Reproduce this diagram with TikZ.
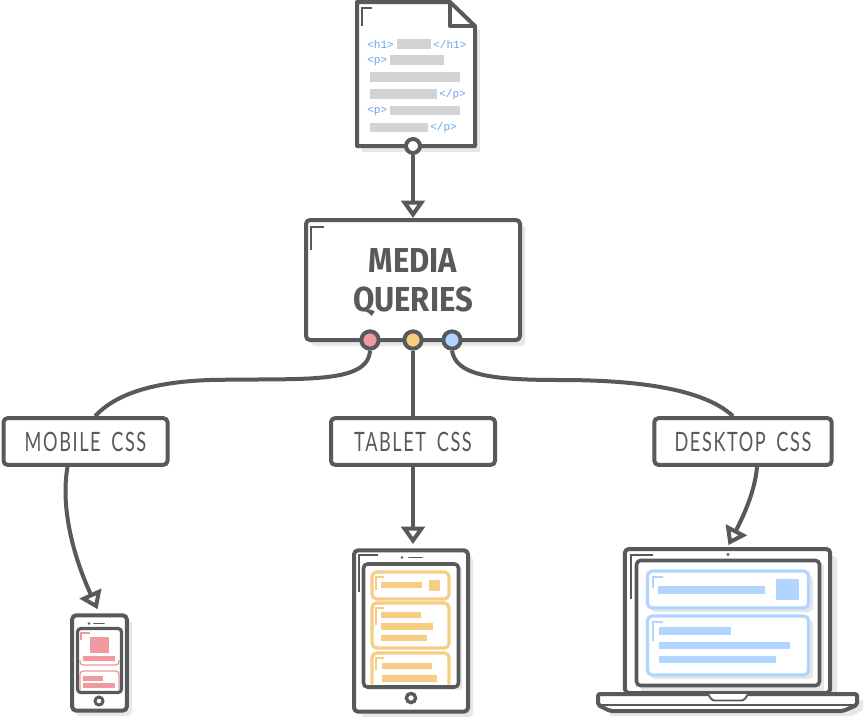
\documentclass[tikz,border=0pt]{standalone}
\usepackage{fontspec}
\usetikzlibrary{arrows.meta}
\newfontfamily\titlefont[FakeStretch=0.895]{Fira Sans}
\newfontfamily\labelfont[FakeStretch=0.68,LetterSpace=6,WordSpace=1.7]{Lato}
\newfontfamily\tagfont{Liberation Mono}
\definecolor{ink}{HTML}{58595B}
\definecolor{dropgrey}{HTML}{E6E7E8}
\definecolor{linebar}{HTML}{D1D3D4}
\definecolor{tagblue}{HTML}{6AA5E8}
\definecolor{redpt}{HTML}{F0999F}
\definecolor{orangept}{HTML}{F7CD84}
\definecolor{bluept}{HTML}{B1D5FF}
\tikzset{
	outline/.style={draw=ink, line width=3pt, line join=round},
	device/.style={outline, rectangle, rounded corners=3pt, fill=white, inner sep=0pt},
	labelbox/.style={device, minimum width=123pt, minimum height=35pt, font=\labelfont\fontsize{20}{20}\selectfont, text=ink},
	glint/.style={draw=ink, line width=1.1pt},
	port/.style={outline, circle, inner sep=0pt, minimum size=13pt, fill=white},
	link/.style={draw=ink, line width=3pt, -{Triangle[open,fill=white,length=13pt,width=17.5pt]}},
	wire/.style={draw=ink, line width=3pt},
	tagtext/.style={anchor=west, inner sep=0pt, text=tagblue, font=\tagfont\fontsize{8.3}{8}\selectfont},
	home/.style={draw=ink, line width=2.2pt, fill=white},
	card/.style={line width=2.4pt, rounded corners=3.5pt, fill=white}
}
\begin{document}
\begin{tikzpicture}[x=0.75pt, y=-0.75pt]
	\useasboundingbox (0, 0) rectangle (863, 718);
	\fill[white] (0, 0) rectangle (863, 718);
	%%%%% page %%%%%
	\fill[dropgrey] (362, 30) rectangle (480, 152);
	\draw[outline, fill=white] (357, 2) -- (450, 2) -- (475, 26) -- (475, 146) -- (357, 146) -- cycle;
	\draw[outline] (450, 2) -- (450, 26) -- (475, 26);
	\draw[glint] (362, 26) -- (362, 8) -- (372, 8);
	\fill[linebar] (397, 39) rectangle (431, 49);
	\fill[linebar] (390, 55) rectangle (444, 65);
	\fill[linebar] (370, 72) rectangle (460, 82);
	\fill[linebar] (370, 89) rectangle (437, 99);
	\fill[linebar] (390, 106) rectangle (460, 115);
	\fill[linebar] (370, 123) rectangle (428, 132);
	\node[tagtext] (h1open) at (367, 44.5) {<h1>};
	\node[tagtext] (h1close) at (433, 44.5) {</h1>};
	\node[tagtext] (popen) at (367, 61) {<p>};
	\node[tagtext] (pclose) at (439, 95) {</p>};
	\node[tagtext] (ptwo) at (367, 111) {<p>};
	\node[tagtext] (ptwoclose) at (430, 128) {</p>};
	\node[port, minimum size=10.5pt] (pageport) at (413, 146) {};
	%%%%% media queries %%%%%
	\fill[dropgrey, rounded corners=3pt] (311, 225) rectangle (525, 346);
	\node[device, minimum width=160.5pt, minimum height=90pt] (media) at (413, 280) {};
	\node[align=center, text=ink, inner sep=0pt, font=\titlefont\bfseries\fontsize{26}{29}\selectfont] (mediatitle) at (413, 282.5) {MEDIA\\QUERIES};
	\draw[glint] (311, 250) -- (311, 227) -- (324, 227);
	\node[port, fill=redpt] (redport) at (370, 340) {};
	\node[port, fill=orangept] (orangeport) at (413, 340) {};
	\node[port, fill=bluept] (blueport) at (452, 340) {};
	\draw[link] (pageport.south) -- (media.north);
	%%%%% labels %%%%%
	\node[labelbox] (mobile) at (85.5, 441.5) {MOBILE CSS};
	\node[labelbox] (tablet) at (413, 441.5) {TABLET CSS};
	\node[labelbox, minimum width=133pt] (desktop) at (743, 441.5) {DESKTOP CSS};
	\draw[wire] (redport.south) .. controls (368, 385) and (300, 378) .. (210, 380) .. controls (150, 382) and (115, 395) .. ([xshift=7.1pt]mobile.north);
	\draw[wire] (orangeport.south) -- (tablet.north);
	\draw[wire] (blueport.south) .. controls (456, 375) and (490, 380) .. (560, 380) .. controls (620, 380) and (700, 385) .. ([xshift=-7.5pt]desktop.north);
	%%%%% phone %%%%%
	\fill[dropgrey, rounded corners=3pt] (76, 620) rectangle (132, 716);
	\node[device, minimum width=41pt, minimum height=71.5pt] (phone) at (99.5, 663) {};
	\fill[ink] (89, 623.5) circle (1.4);
	\draw[ink, line width=1.4pt, line cap=round] (94, 623.5) -- (104, 623.5);
	\draw[outline, line width=2.4pt, rounded corners=2.5pt, fill=white] (77.5, 628.5) rectangle (121.5, 692.5);
	\draw[redpt, line width=1pt, rounded corners=2.5pt] (80, 660) -- (80, 665) -- (119, 665) -- (119, 660);
	\draw[redpt, line width=1pt, rounded corners=2.5pt] (80, 690) -- (80, 671) -- (119, 671) -- (119, 690);
	\draw[redpt, line width=1pt] (81, 640) -- (81, 633) -- (90, 633);
	\fill[redpt] (90, 637) rectangle (109, 653);
	\fill[redpt] (83, 656) rectangle (115, 661);
	\fill[redpt] (83, 676) rectangle (103, 681);
	\fill[redpt] (83, 683) rectangle (115, 688);
	\draw[home] (99, 701) circle (4);
	\draw[link, shorten >=3.4pt] ([xshift=-13.5pt]mobile.south) .. controls (60, 510) and (75, 560) .. (phone.north);
	%%%%% tablet %%%%%
	\fill[dropgrey, rounded corners=3pt] (361, 556) rectangle (473, 717);
	\node[device, minimum width=85.5pt, minimum height=121pt] (pad) at (411, 631) {};
	\fill[ink] (402, 557.5) circle (1.4);
	\draw[ink, line width=1.4pt, line cap=round] (409, 557.5) -- (422, 557.5);
	\draw[glint] (359, 592) -- (359, 555) -- (378, 555);
	\fill[dropgrey] (368, 569) rectangle (462, 690);
	\draw[outline, line width=2.7pt, rounded corners=3pt, fill=white] (363.5, 564) rectangle (458.5, 687);
	\draw[orangept, card] (372, 572) rectangle (449, 599);
	\draw[orangept, card] (372, 603) rectangle (449, 648);
	\draw[orangept, card] (372, 684.5) -- (372, 653) -- (449, 653) -- (449, 684.5);
	\draw[orangept, line width=.8pt] (376, 590) -- (376, 577) -- (384, 577);
	\draw[orangept, line width=.8pt] (376, 625) -- (376, 608) -- (384, 608);
	\draw[orangept, line width=.8pt] (376, 670) -- (376, 658) -- (384, 658);
	\fill[orangept] (381, 582) rectangle (422, 588);
	\fill[orangept] (429, 580) rectangle (440, 591);
	\fill[orangept] (381, 612) rectangle (421, 618);
	\fill[orangept] (381, 623) rectangle (433, 630);
	\fill[orangept] (381, 635) rectangle (427, 641);
	\fill[orangept] (382, 663) rectangle (432, 669);
	\fill[orangept] (382, 675) rectangle (437, 682);
	\draw[home, line width=2.5pt] (411, 698) circle (4.6);
	\draw[link, shorten >=3.2pt] (tablet.south) -- (tablet.south |- pad.north);
	%%%%% laptop %%%%%
	\fill[dropgrey, rounded corners=3pt] (632, 556) rectangle (837, 695);
	\fill[dropgrey] (605, 700) -- (863, 700) -- (863, 710) -- (852, 716) -- (610, 716) -- cycle;
	\node[device, minimum width=154pt, minimum height=108pt] (laptop) at (727.5, 621) {};
	\fill[ink] (728, 554.5) circle (1.6);
	\draw[glint] (631, 599) -- (631, 555) -- (653, 555);
	\fill[dropgrey] (641, 565) rectangle (824, 691);
	\draw[outline, line width=2.7pt, rounded corners=3pt, fill=white] (636.5, 560.5) rectangle (819.5, 685.5);
	\fill[dropgrey, rounded corners=3pt] (651, 575) rectangle (813, 612);
	\fill[dropgrey, rounded corners=3pt] (651, 620) rectangle (813, 679);
	\draw[bluept, card] (647.5, 571) rectangle (808.5, 608);
	\draw[bluept, card] (647.5, 616) rectangle (808.5, 675);
	\draw[bluept, line width=.8pt] (653, 588) -- (653, 577) -- (663, 577);
	\draw[bluept, line width=.8pt] (653, 641) -- (653, 622) -- (663, 622);
	\fill[bluept] (658, 586) rectangle (765, 593.5);
	\fill[bluept] (776, 579) rectangle (799, 600);
	\fill[bluept] (659, 627) rectangle (731, 635);
	\fill[bluept] (659, 642) rectangle (790, 649);
	\fill[bluept] (659, 656) rectangle (776, 663);
	\draw[outline, fill=white, rounded corners=1.5pt] (598, 694) -- (857, 694) -- (857, 705) -- (843, 711) -- (610, 711) -- (598, 705) -- cycle;
	\draw[outline, line width=1.8pt] (598, 705) -- (857, 705);
	\draw[outline, line width=1.4pt, rounded corners=2pt, fill=white] (708, 694) -- (712, 700.5) -- (744, 700.5) -- (748, 694);
	\draw[link, shorten >=1.6pt] ([xshift=10.5pt]desktop.south) .. controls (755, 490) and (745, 513) .. (laptop.north);
\end{tikzpicture}
\end{document}
